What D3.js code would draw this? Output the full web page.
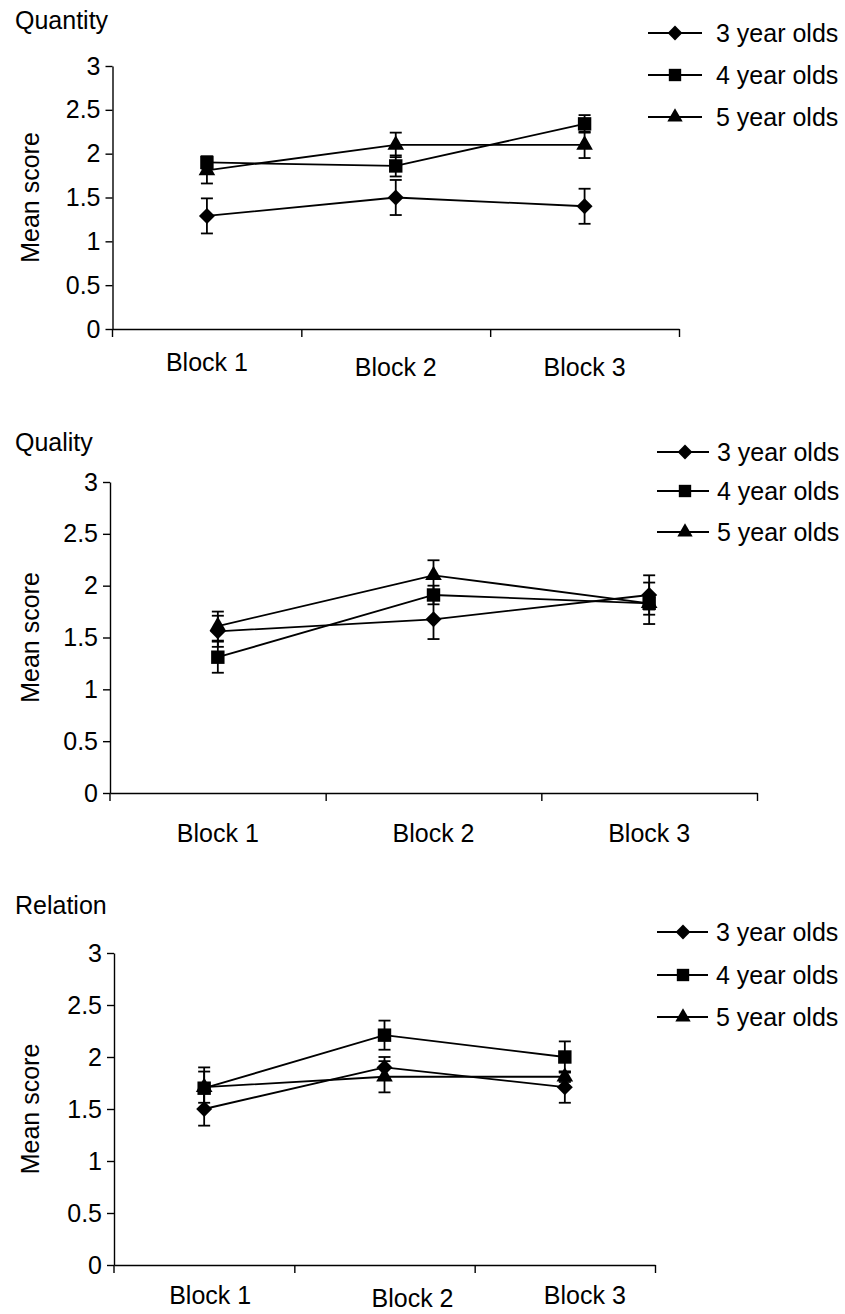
<!DOCTYPE html>
<html>
<head>
<meta charset="utf-8">
<script src="https://cdn.jsdelivr.net/npm/d3@7"></script>
<style>
  body { margin: 0; background: #fff; }
  text { font-family: "Liberation Sans", Arial, sans-serif; fill: #000; }
</style>
</head>
<body>
<div id="chart"></div>
<script>

const categories = ["Block 1", "Block 2", "Block 3"];
const groups = ["3 year olds", "4 year olds", "5 year olds"];
const yTicks = [0, 0.5, 1, 1.5, 2, 2.5, 3];

// rows = groups (3, 4, 5 year olds), columns = blocks
const quantityMeans  = [[1.29, 1.50, 1.40], [1.90, 1.86, 2.34], [1.81, 2.10, 2.10]];
const quantityErrors = [[0.20, 0.20, 0.20], [0.07, 0.12, 0.10], [0.15, 0.14, 0.15]];

const qualityMeans  = [[1.56, 1.675, 1.91], [1.31, 1.91, 1.83], [1.61, 2.10, 1.83]];
const qualityErrors = [[0.15, 0.19, 0.19], [0.15, 0.09, 0.20], [0.14, 0.145, 0.06]];

const relationMeans  = [[1.50, 1.90, 1.71], [1.70, 2.21, 2.00], [1.71, 1.81, 1.81]];
const relationErrors = [[0.16, 0.10, 0.15], [0.20, 0.14, 0.15], [0.15, 0.15, 0.05]];

const width = 845;
const height = 1314;
const fontSize = 25;

const panels = [
    {title: "Quantity", means: quantityMeans, errs: quantityErrors,
     x0: 112.5, x1: 679, yTop: 66, yBottom: 329, titleY: 20,
     legendRows: [33, 75, 117], lineFrom: 648, lineTo: 702, markerX: 675, textX: 716,
     labelDx: [0, 0, 0], labelDy: [33, 38, 38]},
    {title: "Quality", means: qualityMeans, errs: qualityErrors,
     x0: 110, x1: 757, yTop: 482, yBottom: 793, titleY: 442,
     legendRows: [452, 491, 532], lineFrom: 657, lineTo: 709, markerX: 685, textX: 717,
     labelDx: [0, 0, 0], labelDy: [40, 40, 40]},
    {title: "Relation", means: relationMeans, errs: relationErrors,
     x0: 114, x1: 655, yTop: 953, yBottom: 1265, titleY: 905,
     legendRows: [932, 975, 1017], lineFrom: 657, lineTo: 708, markerX: 683, textX: 716,
     labelDx: [6, 28, 20], labelDy: [30, 33, 30]}
];

// diamond (rotated square), square, triangle
const symbols = [
    {type: d3.symbolSquare, size: 128, rotate: 45},
    {type: d3.symbolSquare, size: 180, rotate: 0},
    {type: d3.symbolTriangle, size: 120, rotate: 0}
];

const svg = d3.select("#chart")
    .append("svg")
    .attr("width", width)
    .attr("height", height);

panels.forEach((p) => {

    const g = svg.append("g");

    const yScale = d3.scaleLinear()
        .domain([0, 3])
        .range([p.yBottom, p.yTop]);

    const xBand = d3.scaleBand()
        .domain(categories)
        .range([p.x0, p.x1]);

    const xEdges = d3.scaleLinear()
        .domain([0, categories.length])
        .range([p.x0, p.x1]);

    const cx = (i) => xBand(categories[i]) + xBand.bandwidth() / 2;

    // title
    g.append("text")
        .attr("x", 15)
        .attr("y", p.titleY + 9)
        .attr("font-size", fontSize)
        .text(p.title);

    // y label
    g.append("text")
        .attr("transform", "translate(30," + (p.yTop + p.yBottom) / 2 + ") rotate(-90)")
        .attr("text-anchor", "middle")
        .attr("dominant-baseline", "central")
        .attr("font-size", fontSize)
        .text("Mean score");

    // y axis
    const yAxis = g.append("g")
        .attr("transform", "translate(" + p.x0 + ",0)")
        .call(d3.axisLeft(yScale).tickValues(yTicks).tickSize(7).tickSizeOuter(0).tickPadding(5)
            .tickFormat(d3.format("")));
    yAxis.selectAll("text").attr("font-size", fontSize).attr("font-family", null);
    yAxis.selectAll("line, path").attr("stroke", "#000").attr("stroke-width", 1.4);

    // y axis pokes through below x axis
    g.append("line")
        .attr("x1", p.x0).attr("x2", p.x0)
        .attr("y1", p.yBottom).attr("y2", p.yBottom + 8)
        .attr("stroke", "#000").attr("stroke-width", 1.4);

    // x axis line + boundary ticks
    const xAxis = g.append("g")
        .attr("transform", "translate(0," + p.yBottom + ")")
        .call(d3.axisBottom(xEdges).tickValues([1, 2, 3]).tickSize(8).tickSizeOuter(0).tickFormat(""));
    xAxis.selectAll("line, path").attr("stroke", "#000").attr("stroke-width", 1.4);

    // category labels
    const xLabels = g.append("g")
        .attr("transform", "translate(0," + p.yBottom + ")")
        .call(d3.axisBottom(xBand).tickSize(0).tickPadding(0));
    xLabels.select(".domain").remove();
    xLabels.selectAll("text")
        .attr("font-size", fontSize)
        .attr("font-family", null)
        .attr("dy", null)
        .attr("dominant-baseline", "central")
        .attr("x", (d, i) => p.labelDx[i])
        .attr("y", (d, i) => p.labelDy[i]);

    const line = d3.line()
        .x((d, i) => cx(i))
        .y((d) => yScale(d));

    groups.forEach((grp, k) => {
        const means = p.means[k];
        const errs = p.errs[k];

        // error bars
        const eb = g.append("g").attr("stroke", "#000").attr("stroke-width", 1.8);
        means.forEach((m, i) => {
            const x = cx(i);
            eb.append("line")
                .attr("x1", x).attr("x2", x)
                .attr("y1", yScale(m - errs[i])).attr("y2", yScale(m + errs[i]));
            [m - errs[i], m + errs[i]].forEach((v) => {
                eb.append("line")
                    .attr("x1", x - 6).attr("x2", x + 6)
                    .attr("y1", yScale(v)).attr("y2", yScale(v));
            });
        });

        g.append("path")
            .datum(means)
            .attr("fill", "none")
            .attr("stroke", "#000")
            .attr("stroke-width", 1.8)
            .attr("d", line);

        const s = symbols[k];
        g.selectAll(".m" + k)
            .data(means)
            .enter()
            .append("path")
            .attr("class", "m" + k)
            .attr("d", d3.symbol().type(s.type).size(s.size))
            .attr("transform", (d, i) => "translate(" + cx(i) + "," + yScale(d) + ") rotate(" + s.rotate + ")")
            .attr("fill", "#000");

        // legend
        const ly = p.legendRows[k];
        g.append("line")
            .attr("x1", p.lineFrom).attr("x2", p.lineTo)
            .attr("y1", ly).attr("y2", ly)
            .attr("stroke", "#000").attr("stroke-width", 1.8);
        g.append("path")
            .attr("d", d3.symbol().type(s.type).size(s.size * 0.85))
            .attr("transform", "translate(" + p.markerX + "," + ly + ") rotate(" + s.rotate + ")")
            .attr("fill", "#000");
        g.append("text")
            .attr("x", p.textX)
            .attr("y", ly)
            .attr("dominant-baseline", "central")
            .attr("font-size", fontSize)
            .text(grp);
    });
});

</script>
</body>
</html>
